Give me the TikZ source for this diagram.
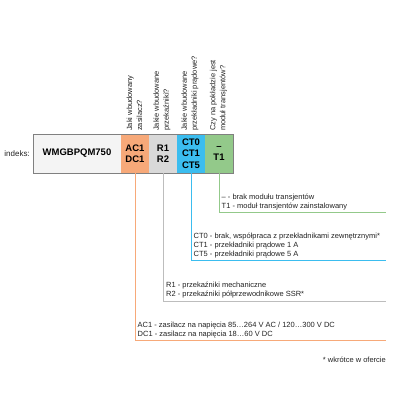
\documentclass[tikz,border=0pt]{standalone}
\usepackage{fontspec}
\setmainfont{Liberation Sans}
\usetikzlibrary{positioning}

\definecolor{pole}{HTML}{F4F4F4}
\definecolor{ramka}{HTML}{808080}
\definecolor{zasilacz}{HTML}{F7A979}
\definecolor{przekaznik}{HTML}{D9D9D9}
\definecolor{przekaznikl}{HTML}{BDBDBD}
\definecolor{przekladnik}{HTML}{3BBDEF}
\definecolor{modul}{HTML}{93C98A}
\definecolor{tekst}{HTML}{222222}

\begin{document}
\begin{tikzpicture}[x=1pt, y=-1pt,
	seg/.style={minimum height=39pt, minimum width=28pt, inner sep=0pt, outer sep=0pt, align=center, font=\fontsize{9.5}{11.5}\selectfont\bfseries},
	pytanie/.style={rotate=90, anchor=west, align=left, inner sep=0pt, font=\fontsize{7.5}{10}\selectfont, text=tekst},
	opis/.style={anchor=south west, align=left, inner sep=0pt, font=\fontsize{7.5}{9}\selectfont, text=tekst},
	linia/.style={line width=0.9pt}]
	\useasboundingbox (0,0) rectangle (400,400);
	\node[seg, minimum width=88pt, fill=pole, anchor=west] (kod) at (33,153.5) {WMGBPQM750};
	\node[seg, fill=zasilacz, right=0pt of kod] (zas) {AC1\\DC1};
	\node[seg, fill=przekaznik, right=0pt of zas] (prz) {R1\\R2};
	\node[seg, fill=przekladnik, right=0pt of prz] (ct) {CT0\\CT1\\CT5};
	\node[seg, fill=modul, right=0pt of ct] (mod) {--\\T1};
	\draw[ramka, line width=0.9pt] (kod.north west) rectangle (mod.south east);
	\node[left=3pt of kod, inner sep=0pt, font=\fontsize{8}{10}\selectfont, text=tekst] (indeks) {indeks:};
	\node[pytanie] (pzas) at ([xshift=-0.5pt, yshift=3pt]zas.north) {Jaki wbudowany\\zasilacz?};
	\node[pytanie] (pprz) at ([xshift=-1pt, yshift=3pt]prz.north) {Jakie wbudowane\\przekaźniki?};
	\node[pytanie] (pct) at ([xshift=-1pt, yshift=3pt]ct.north) {Jakie wbudowane\\przekładniki prądowe?};
	\node[pytanie] (pmod) at ([xshift=-0.5pt, yshift=3pt]mod.north) {Czy na pokładzie jest\\moduł transjentów?};
	\coordinate (kmod) at (386,212.5);
	\coordinate (kct) at (386,260.5);
	\coordinate (kprz) at (386,301);
	\coordinate (kzas) at (386,340.5);
	\coordinate (rmod) at (mod.south |- kmod);
	\coordinate (rct) at (ct.south |- kct);
	\coordinate (rprz) at (prz.south |- kprz);
	\coordinate (rzas) at (zas.south |- kzas);
	\draw[linia, modul] (mod.south) -- (rmod) -- (kmod);
	\draw[linia, przekladnik] (ct.south) -- (rct) -- (kct);
	\draw[linia, przekaznikl] (prz.south) -- (rprz) -- (kprz);
	\draw[linia, zasilacz] (zas.south) -- (rzas) -- (kzas);
	\node[opis] (omod) at ([xshift=2.5pt, yshift=2.5pt]rmod) {-- - brak modułu transjentów\\T1 - moduł transjentów zainstalowany};
	\node[opis] (oct) at ([xshift=2.5pt, yshift=2.5pt]rct) {CT0 - brak, współpraca z przekładnikami zewnętrznymi*\\CT1 - przekładniki prądowe 1 A\\CT5 - przekładniki prądowe 5 A};
	\node[opis] (oprz) at ([xshift=3pt, yshift=2.5pt]rprz) {R1 - przekaźniki mechaniczne\\R2 - przekaźniki półprzewodnikowe SSR*};
	\node[opis] (ozas) at ([xshift=2.5pt, yshift=2.5pt]rzas) {AC1 - zasilacz na napięcia 85…264 V AC / 120…300 V DC\\DC1 - zasilacz na napięcia 18…60 V DC};
	\node[anchor=east, inner sep=0pt, font=\fontsize{7.5}{9}\selectfont, text=tekst] (uwaga) at (386,359.5) {* wkrótce w ofercie};
\end{tikzpicture}
\end{document}
